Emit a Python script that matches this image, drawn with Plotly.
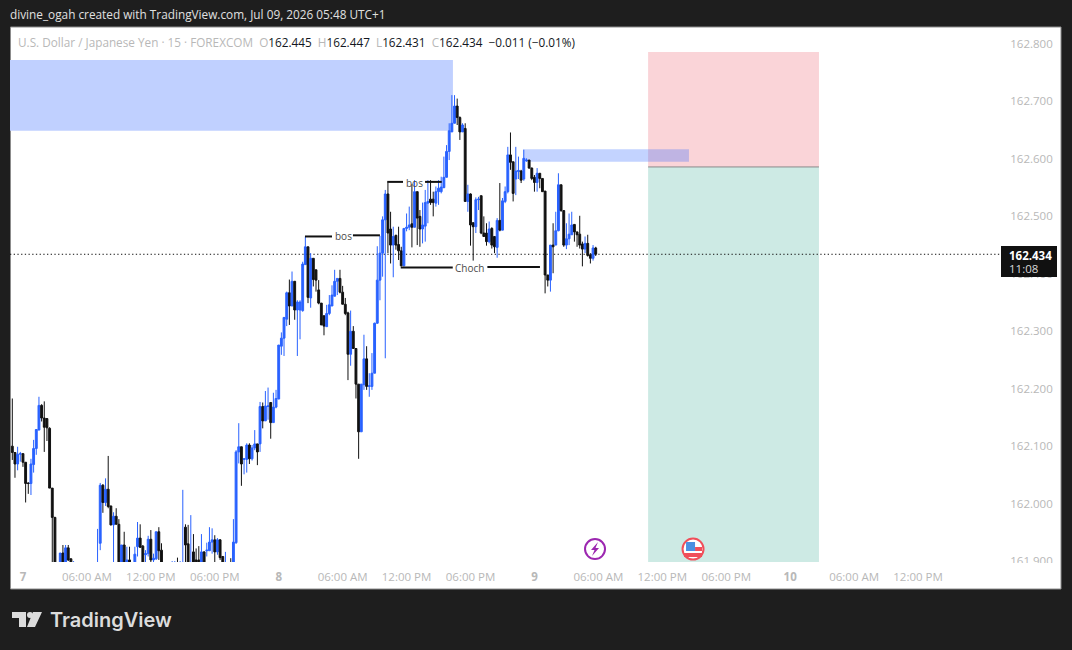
import pandas as pd
import plotly.graph_objects as go

# USD/JPY 15-minute session, oldest bar first
open_prices = [
    162.100, 162.089, 162.069, 162.086, 162.087, 162.072, 162.036, 162.035, 162.068, 162.096,
    162.128, 162.171, 162.149, 162.148, 162.131, 162.027, 161.976, 161.880, 161.880, 161.914,
    161.880, 161.923, 161.904, 161.870, 161.885, 161.870, 161.840, 161.855, 161.845,
    161.860, 161.850, 161.860, 161.860, 161.931, 162.032, 162.002, 162.025, 161.996, 161.963,
    161.978, 161.964, 161.880, 161.928, 161.885, 161.902, 161.885, 161.885, 161.925, 161.940,
    161.926, 161.911, 161.913, 161.938, 161.902, 161.904, 161.951, 161.919, 161.880, 161.870,
    161.865, 161.880, 161.880, 161.890, 161.880, 161.870, 161.959, 161.930, 161.870, 161.916,
    161.902, 161.902, 161.885, 161.916, 161.918, 161.918, 161.933, 161.937, 161.916, 161.937,
    161.908, 161.870, 161.870, 161.890, 161.875, 161.932, 162.090, 162.099, 162.077, 162.077,
    162.102, 162.078, 162.097, 162.104, 162.104, 162.169, 162.144, 162.169, 162.176, 162.141,
    162.168, 162.182, 162.274, 162.288, 162.321, 162.367, 162.344, 162.387, 162.337, 162.337,
    162.336, 162.416, 162.447, 162.358, 162.427, 162.407, 162.372, 162.349, 162.327, 162.308,
    162.331, 162.344, 162.361, 162.387, 162.392, 162.368, 162.347, 162.332, 162.260, 162.300,
    162.270, 162.208, 162.125, 162.207, 162.252, 162.204, 162.204, 162.227, 162.314, 162.389,
    162.436, 162.494, 162.539, 162.478, 162.450, 162.467, 162.451, 162.440, 162.414, 162.479,
    162.481, 162.487, 162.481, 162.543, 162.500, 162.478, 162.483, 162.523, 162.530, 162.530,
    162.523, 162.543, 162.543, 162.550, 162.568, 162.613, 162.647, 162.662, 162.692, 162.672,
    162.647, 162.653, 162.526, 162.539, 162.489, 162.482, 162.529, 162.536, 162.471, 162.471,
    162.456, 162.479, 162.465, 162.446, 162.493, 162.476, 162.526, 162.543, 162.607, 162.595,
    162.565, 162.578, 162.579, 162.565, 162.597, 162.598, 162.584, 162.568, 162.559, 162.575,
    162.566, 162.544, 162.398, 162.389, 162.450, 162.450, 162.475, 162.555, 162.510, 162.450,
    162.461, 162.468, 162.486, 162.473, 162.469, 162.452, 162.443, 162.453, 162.433, 162.427,
    162.445,
]
high_prices = [
    162.183, 162.089, 162.099, 162.090, 162.087, 162.072, 162.037, 162.078, 162.111, 162.129,
    162.186, 162.173, 162.178, 162.149, 162.133, 162.027, 161.977, 161.890, 161.914, 161.928,
    161.928, 161.928, 161.904, 161.900, 161.890, 161.880, 161.865, 161.870, 161.870,
    161.875, 161.880, 161.885, 161.956, 162.036, 162.034, 162.044, 162.083, 161.996, 161.985,
    161.992, 161.973, 161.928, 161.951, 161.925, 161.925, 161.890, 161.925, 161.968, 161.964,
    161.928, 161.919, 161.944, 161.954, 161.913, 161.951, 161.959, 161.931, 161.885, 161.880,
    161.885, 161.900, 161.900, 161.906, 161.900, 162.024, 161.964, 161.963, 161.980, 161.947,
    161.922, 161.926, 161.947, 161.917, 161.932, 161.959, 161.957, 161.945, 161.940, 161.938,
    161.908, 161.916, 161.880, 161.905, 161.973, 162.093, 162.140, 162.099, 162.078, 162.105,
    162.105, 162.102, 162.128, 162.104, 162.177, 162.176, 162.196, 162.202, 162.176, 162.193,
    162.198, 162.276, 162.298, 162.325, 162.369, 162.390, 162.404, 162.387, 162.354, 162.354,
    162.421, 162.465, 162.447, 162.436, 162.427, 162.407, 162.389, 162.349, 162.327, 162.346,
    162.363, 162.380, 162.407, 162.392, 162.407, 162.379, 162.358, 162.334, 162.336, 162.309,
    162.270, 162.208, 162.208, 162.294, 162.274, 162.227, 162.262, 162.315, 162.448, 162.466,
    162.500, 162.546, 162.559, 162.508, 162.482, 162.468, 162.482, 162.447, 162.479, 162.505,
    162.517, 162.556, 162.563, 162.543, 162.511, 162.524, 162.546, 162.563, 162.563, 162.543,
    162.552, 162.563, 162.569, 162.604, 162.624, 162.662, 162.711, 162.711, 162.705, 162.674,
    162.662, 162.662, 162.555, 162.540, 162.489, 162.533, 162.534, 162.536, 162.500, 162.488,
    162.491, 162.481, 162.465, 162.497, 162.558, 162.532, 162.552, 162.621, 162.646, 162.595,
    162.621, 162.604, 162.581, 162.616, 162.601, 162.598, 162.585, 162.572, 162.584, 162.575,
    162.566, 162.544, 162.398, 162.450, 162.488, 162.508, 162.575, 162.555, 162.511, 162.488,
    162.505, 162.508, 162.486, 162.473, 162.501, 162.456, 162.465, 162.468, 162.436, 162.450,
    162.447,
]
low_prices = [
    162.076, 162.045, 162.058, 162.073, 162.064, 162.002, 162.017, 162.015, 162.054, 162.085,
    162.128, 162.143, 162.090, 162.109, 162.027, 161.890, 161.870, 161.850, 161.870, 161.870,
    161.870, 161.900, 161.880, 161.860, 161.860, 161.845, 161.830, 161.835, 161.835,
    161.840, 161.840, 161.850, 161.850, 161.919, 161.984, 161.996, 161.992, 161.962, 161.880,
    161.964, 161.870, 161.870, 161.870, 161.880, 161.880, 161.870, 161.880, 161.908, 161.923,
    161.880, 161.885, 161.908, 161.890, 161.890, 161.902, 161.902, 161.875, 161.860, 161.855,
    161.860, 161.870, 161.870, 161.870, 161.870, 161.860, 161.895, 161.880, 161.860, 161.880,
    161.880, 161.880, 161.880, 161.880, 161.908, 161.918, 161.913, 161.890, 161.911, 161.902,
    161.880, 161.860, 161.850, 161.870, 161.870, 161.930, 162.070, 162.031, 162.051, 162.054,
    162.069, 162.075, 162.093, 162.067, 162.090, 162.131, 162.144, 162.146, 162.113, 162.141,
    162.166, 162.182, 162.259, 162.257, 162.309, 162.311, 162.344, 162.320, 162.257, 162.286,
    162.334, 162.416, 162.349, 162.341, 162.378, 162.369, 162.347, 162.311, 162.293, 162.308,
    162.328, 162.344, 162.361, 162.363, 162.366, 162.347, 162.328, 162.215, 162.240, 162.270,
    162.183, 162.078, 162.125, 162.198, 162.198, 162.186, 162.198, 162.227, 162.313, 162.354,
    162.395, 162.253, 162.436, 162.418, 162.394, 162.442, 162.424, 162.413, 162.413, 162.474,
    162.476, 162.446, 162.481, 162.450, 162.447, 162.453, 162.456, 162.488, 162.520, 162.500,
    162.517, 162.520, 162.540, 162.549, 162.568, 162.598, 162.647, 162.662, 162.659, 162.633,
    162.647, 162.526, 162.508, 162.449, 162.423, 162.471, 162.511, 162.469, 162.465, 162.449,
    162.453, 162.444, 162.436, 162.428, 162.474, 162.476, 162.523, 162.540, 162.581, 162.526,
    162.537, 162.565, 162.558, 162.562, 162.595, 162.583, 162.563, 162.543, 162.543, 162.549,
    162.543, 162.366, 162.378, 162.369, 162.401, 162.450, 162.474, 162.508, 162.447, 162.443,
    162.450, 162.468, 162.456, 162.447, 162.444, 162.413, 162.436, 162.430, 162.418, 162.423,
    162.431,
]
close_prices = [
    162.089, 162.069, 162.086, 162.087, 162.072, 162.035, 162.035, 162.069, 162.096, 162.129,
    162.171, 162.149, 162.133, 162.132, 162.027, 161.976, 161.880, 161.860, 161.914, 161.880,
    161.923, 161.902, 161.885, 161.885, 161.870, 161.850, 161.855, 161.845, 161.860,
    161.850, 161.870, 161.875, 161.880, 162.032, 162.002, 162.025, 161.995, 161.963, 161.978,
    161.964, 161.880, 161.928, 161.880, 161.902, 161.885, 161.880, 161.912, 161.940, 161.924,
    161.885, 161.913, 161.938, 161.902, 161.905, 161.951, 161.918, 161.880, 161.870, 161.865,
    161.880, 161.890, 161.890, 161.880, 161.890, 161.890, 161.928, 161.885, 161.890, 161.885,
    161.885, 161.885, 161.916, 161.885, 161.919, 161.933, 161.937, 161.916, 161.937, 161.906,
    161.885, 161.885, 161.860, 161.875, 161.933, 162.090, 162.099, 162.069, 162.078, 162.102,
    162.078, 162.097, 162.104, 162.090, 162.169, 162.144, 162.170, 162.170, 162.141, 162.168,
    162.183, 162.276, 162.288, 162.324, 162.367, 162.344, 162.387, 162.337, 162.351, 162.351,
    162.417, 162.447, 162.359, 162.427, 162.390, 162.389, 162.349, 162.311, 162.309, 162.331,
    162.346, 162.363, 162.387, 162.392, 162.368, 162.347, 162.331, 162.260, 162.300, 162.270,
    162.208, 162.125, 162.208, 162.252, 162.204, 162.205, 162.227, 162.314, 162.389, 162.436,
    162.494, 162.539, 162.471, 162.450, 162.465, 162.450, 162.440, 162.414, 162.479, 162.481,
    162.485, 162.481, 162.543, 162.497, 162.478, 162.485, 162.524, 162.526, 162.524, 162.524,
    162.543, 162.549, 162.551, 162.568, 162.613, 162.649, 162.662, 162.692, 162.672, 162.647,
    162.659, 162.526, 162.539, 162.485, 162.482, 162.529, 162.530, 162.471, 162.465, 162.456,
    162.478, 162.450, 162.447, 162.493, 162.476, 162.527, 162.543, 162.607, 162.594, 162.540,
    162.579, 162.580, 162.563, 162.601, 162.598, 162.584, 162.566, 162.559, 162.575, 162.566,
    162.543, 162.398, 162.389, 162.450, 162.447, 162.475, 162.555, 162.510, 162.450, 162.461,
    162.469, 162.485, 162.473, 162.468, 162.450, 162.443, 162.453, 162.432, 162.427, 162.445,
    162.434,
]
last_bar_time = "2026-07-09 05:45"
bar_times = pd.date_range(end=last_bar_time, periods=len(close_prices), freq="15min")

# Axis labels
price_ticks = [161.9, 162.0, 162.1, 162.2, 162.3, 162.4, 162.5, 162.6, 162.7, 162.8]
price_tick_labels = [f"{p:.3f}" for p in price_ticks]
time_ticks = [
    "2026-07-07 00:00", "2026-07-07 06:00", "2026-07-07 12:00", "2026-07-07 18:00",
    "2026-07-08 00:00", "2026-07-08 06:00", "2026-07-08 12:00", "2026-07-08 18:00",
    "2026-07-09 00:00", "2026-07-09 06:00", "2026-07-09 12:00", "2026-07-09 18:00",
    "2026-07-10 00:00", "2026-07-10 06:00", "2026-07-10 12:00",
]
time_tick_labels = [
    "<b>7</b>", "06:00 AM", "12:00 PM", "06:00 PM",
    "<b>8</b>", "06:00 AM", "12:00 PM", "06:00 PM",
    "<b>9</b>", "06:00 AM", "12:00 PM", "06:00 PM",
    "<b>10</b>", "06:00 AM", "12:00 PM",
]

# Supply zones and the short-position box
zone_upper = dict(x0="2026-07-06 20:00", x1="2026-07-08 16:21", y0=162.649, y1=162.772)
zone_lower = dict(x0="2026-07-08 22:56", x1="2026-07-09 14:30", y0=162.595, y1=162.617)
position_start, position_end = "2026-07-09 10:40", "2026-07-10 02:42"
stop_price, entry_price, target_price = 162.786, 162.586, 161.800

# Market-structure labels: left segment, right segment, text anchor
structure_marks = [
    ("bos", ("2026-07-08 02:28", "2026-07-08 05:00", 162.465), ("2026-07-08 06:58", "2026-07-08 09:30", 162.467),
     ("2026-07-08 06:02", 162.465)),
    ("bos", ("2026-07-08 10:11", "2026-07-08 11:40", 162.560), ("2026-07-08 13:44", "2026-07-08 15:18", 162.560),
     ("2026-07-08 12:42", 162.558)),
    ("Choch", ("2026-07-08 11:27", "2026-07-08 16:20", 162.411), ("2026-07-08 19:35", "2026-07-09 00:31", 162.412),
     ("2026-07-08 17:57", 162.410)),
]

last_price = close_prices[-1]
countdown = "11:08"
event_price = 161.921
event_lightning_time, event_flag_time = "2026-07-09 05:41", "2026-07-09 14:53"
axis_start, axis_end = "2026-07-06 22:47", "2026-07-10 19:47"

WIDTH, HEIGHT = 1072, 650
LEFT, RIGHT, TOP, BOTTOM = 10, 1001, 27, 562
GREY = "#b8b8b8"
FONT = "Open Sans"


def px(x):
    """Page pixel column to paper x."""
    return (x - LEFT) / (RIGHT - LEFT)


def py(y):
    """Page pixel row to paper y."""
    return 1 - (y - TOP) / (BOTTOM - TOP)


def page_rect(x0, y0, x1, y1, fill, layer="above", line=None):
    return dict(type="rect", xref="paper", yref="paper", x0=px(x0), x1=px(x1), y0=py(y1), y1=py(y0),
                fillcolor=fill, line=line or dict(width=0), layer=layer)


def page_path(points, fill):
    d = "M" + " L".join(f"{px(x):.5f},{py(y):.5f}" for x, y in points) + " Z"
    return dict(type="path", xref="paper", yref="paper", path=d, fillcolor=fill, line=dict(width=0), layer="above")


def page_text(x, y, text, font, xanchor="left"):
    return dict(xref="paper", yref="paper", x=px(x), y=py(y), text=text, showarrow=False,
                xanchor=xanchor, yanchor="middle", font=font)


def icon_shape(kind, t, x0, y0, x1, y1, fill, line=None):
    return dict(type=kind, xref="x", yref="y", xsizemode="pixel", ysizemode="pixel",
                xanchor=t, yanchor=event_price, x0=x0, x1=x1, y0=y0, y1=y1,
                fillcolor=fill, line=line or dict(width=0), layer="above")


fig = go.Figure(go.Candlestick(
    x=bar_times, open=open_prices, high=high_prices, low=low_prices, close=close_prices,
    increasing=dict(line=dict(color="#2962ff", width=1), fillcolor="#2962ff"),
    decreasing=dict(line=dict(color="#111111", width=1), fillcolor="#111111"),
    whiskerwidth=0, hoverinfo="skip", showlegend=False,
))

shapes = [
    page_rect(10.5, 27, 1061, 589, "#ffffff", layer="below", line=dict(color="#8c8c8c", width=1)),
    dict(type="rect", x0=position_start, x1=position_end, y0=entry_price, y1=stop_price,
         fillcolor="#fad4d8", line=dict(width=0), layer="below"),
    dict(type="rect", x0=position_start, x1=position_end, y0=target_price, y1=entry_price,
         fillcolor="#cdeae4", line=dict(width=0), layer="below"),
    dict(type="line", x0=position_start, x1=position_end, y0=entry_price, y1=entry_price,
         line=dict(color="#8a8a8a", width=1), layer="below"),
    dict(type="rect", **zone_upper, fillcolor="#c0d0ff", line=dict(width=0), layer="below"),
    dict(type="rect", **zone_lower, fillcolor="rgba(41,98,255,0.28)", line=dict(width=0), layer="below"),
    dict(type="line", x0=axis_start, x1=axis_end, y0=last_price, y1=last_price,
         line=dict(color="#111111", width=1, dash="1.3px,2.4px"), layer="below"),
]

annotations = []
for text, left_seg, right_seg, anchor in structure_marks:
    for seg in (left_seg, right_seg):
        shapes.append(dict(type="line", x0=seg[0], x1=seg[1], y0=seg[2], y1=seg[2],
                           line=dict(color="#111111", width=2), layer="above"))
    annotations.append(dict(x=anchor[0], y=anchor[1], text=text, showarrow=False,
                            font=dict(family=FONT, size=10, color="#4a4a4a")))

# Event markers along the bottom of the pane
shapes += [
    icon_shape("circle", event_lightning_time, -10, -10, 10, 10, "#ffffff", dict(color="#9c27b0", width=2)),
    dict(type="path", xref="x", yref="y", xsizemode="pixel", ysizemode="pixel",
         xanchor=event_lightning_time, yanchor=event_price,
         path="M 3,7 L -4,-1 L -0.5,-1 L -3,-7 L 4,1 L 0.5,1 Z",
         fillcolor="#9c27b0", line=dict(width=0), layer="above"),
    icon_shape("circle", event_flag_time, -10.5, -10.5, 10.5, 10.5, "#ffffff", dict(color="#f04f5a", width=2)),
    icon_shape("rect", event_flag_time, -9, -8, 9, -4, "#f04f5a"),
    icon_shape("rect", event_flag_time, 2, -2, 9, 2, "#f04f5a"),
    icon_shape("rect", event_flag_time, -7, -2, 2, 7, "#4a90e2"),
]

# Last-price tag over the axis; also hides the tick that would sit behind it
shapes.append(page_rect(1001, 246, 1057, 277, "#111111"))
annotations += [
    page_text(1007, 255, f"<b>{last_price:.3f}</b>", dict(family=FONT, size=11.5, color="#ffffff")),
    page_text(1007, 268.5, countdown, dict(family=FONT, size=11.5, color="#d8d8d8")),
]

# Pane edge trims the lowest price label
shapes.append(page_rect(1002, 563, 1060, 588, "#ffffff"))

# Header row, OHLC legend and footer wordmark
annotations += [
    page_text(8, 14.5, "divine_ogah created with TradingView.com, Jul 09, 2026 05:48 UTC+1",
              dict(family=FONT, size=11.8, color="#e0e0e0")),
    page_text(16, 41.5,
              f"<span style='color:{GREY}'>U.S. Dollar / Japanese Yen · 15 · FOREXCOM  O</span>162.445"
              f"  <span style='color:{GREY}'>H</span>162.447  <span style='color:{GREY}'>L</span>162.431"
              f"  <span style='color:{GREY}'>C</span>162.434  −0.011 (−0.01%)",
              dict(family=FONT, size=11.75, color="#131722")),
    page_text(48, 620, "TradingView", dict(family="Inter", size=20, color="#dcdcdc", weight=600)),
]

# Footer logo mark
LOGO = "#dcdcdc"
shapes += [
    page_path([(12, 612), (26, 612), (26, 627), (19, 627), (19, 618), (12, 618)], LOGO),
    page_path([(33, 612), (42, 612), (35, 627), (27, 627)], LOGO),
    dict(type="circle", xref="paper", yref="paper", x0=px(27), x1=px(33), y0=py(618), y1=py(612),
         fillcolor=LOGO, line=dict(width=0), layer="above"),
]

axis_font = dict(family=FONT, size=11.5, color=GREY)
fig.update_layout(
    width=WIDTH, height=HEIGHT, autosize=False,
    margin=dict(l=LEFT, r=WIDTH - RIGHT, t=TOP, b=HEIGHT - BOTTOM, pad=0),
    paper_bgcolor="#1e1e1e", plot_bgcolor="#ffffff", boxgap=0,
    xaxis=dict(
        type="date", range=[axis_start, axis_end],
        rangeslider=dict(visible=False), showgrid=False, zeroline=False, showline=False,
        tickmode="array", tickvals=time_ticks, ticktext=time_tick_labels,
        ticks="outside", ticklen=4, tickcolor="rgba(0,0,0,0)", tickfont=axis_font,
    ),
    yaxis=dict(
        side="right", range=[161.8984, 162.8296], showgrid=False, zeroline=False, showline=False,
        tickmode="array", tickvals=price_ticks, ticktext=price_tick_labels,
        ticks="outside", ticklen=6, tickcolor="rgba(0,0,0,0)", tickfont=axis_font,
    ),
    shapes=shapes, annotations=annotations, hovermode=False, dragmode=False,
)

fig.write_html("out.html", config=dict(displayModeBar=False))
